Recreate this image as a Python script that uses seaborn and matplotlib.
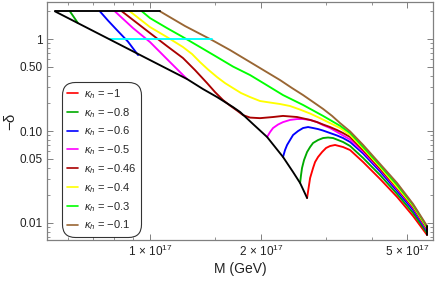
import numpy as np
import pandas as pd
import matplotlib
matplotlib.use('Agg')
import matplotlib.pyplot as plt
import seaborn as sns
from matplotlib.lines import Line2D
from matplotlib.ticker import FixedLocator, FixedFormatter, NullFormatter

# DATA (M in units of 1e17 GeV, values of -delta)
kappa_labels = ['-1', '-0.8', '-0.6', '-0.5', '-0.46', '-0.4', '-0.3', '-0.1']
kappa_colors = ['#FF0000', '#00AA00', '#0000FF', '#FF00FF', '#AA0000', '#FFFF00', '#00FF00', '#996633']

# upper branches (start on the -delta = 2 line, end on the black boundary)
up_M_m08 = [0.606, 0.637]
up_d_m08 = [2.0, 1.492]
up_M_m06 = [0.731, 0.769, 0.813, 0.871, 0.928]
up_d_m06 = [2.0, 1.589, 1.253, 0.939, 0.670]
up_M_m05 = [0.803, 0.899, 1.0, 1.133, 1.260]
up_d_m05 = [2.0, 1.317, 0.928, 0.562, 0.368]

# lower branches (start on the black boundary)
lo_M_m1 = [2.671, 2.722, 2.773, 2.808, 2.861, 2.934, 3.008, 3.084, 3.182, 3.345, 3.496,
           3.793, 4.217, 4.690, 5.184, 5.658]
lo_d_m1 = [0.0187, 0.0308, 0.0396, 0.0460, 0.0522, 0.0591, 0.0654, 0.0687, 0.0705, 0.067, 0.0621,
           0.0460, 0.0301, 0.0192, 0.0119, 0.00741]
lo_M_m08 = [2.557, 2.572, 2.588, 2.621, 2.671, 2.722, 2.773, 2.861, 2.952, 3.046, 3.143, 3.345,
            3.496, 3.793, 4.217, 4.690, 5.184, 5.658]
lo_d_m08 = [0.0272, 0.0332, 0.0396, 0.0484, 0.0591, 0.067, 0.0741, 0.0798, 0.0839, 0.0850, 0.0839, 0.0760,
            0.0687, 0.0509, 0.0332, 0.0207, 0.01284, 0.00778]
lo_M_m06 = [2.298, 2.327, 2.357, 2.401, 2.447, 2.525, 2.605, 2.688, 2.773, 2.861, 2.952, 3.084,
            3.222, 3.345, 3.496, 3.793, 4.217, 4.690, 5.184, 5.658]
lo_d_m06 = [0.0522, 0.0621, 0.0705, 0.0798, 0.0905, 0.100, 0.1078, 0.1105, 0.1078, 0.105, 0.1012, 0.0951,
            0.0894, 0.0839, 0.0760, 0.0569, 0.0363, 0.0223, 0.01384, 0.00819]
lo_M_m05 = [2.080, 2.119, 2.159, 2.228, 2.298, 2.401, 2.509, 2.605, 2.722, 2.843, 2.952, 3.084,
            3.222, 3.345, 3.496, 3.793, 4.217, 4.690, 5.184, 5.658]
lo_d_m05 = [0.0861, 0.0975, 0.1078, 0.1177, 0.125, 0.132, 0.135, 0.135, 0.132, 0.125, 0.116, 0.1078,
            0.0975, 0.0894, 0.0808, 0.0598, 0.0382, 0.0234, 0.0146, 0.0084]

# full curves (from the -delta = 2 line to the end point)
M_m046 = [0.839, 1.0, 1.112, 1.229, 1.325, 1.429, 1.502, 1.579, 1.650, 1.723, 1.789, 1.870, 1.990,
          2.159, 2.298, 2.509, 2.722, 2.843, 2.952, 3.084, 3.222, 3.345, 3.496, 3.793, 4.217,
          4.690, 5.184, 5.658]
d_m046 = [2.0, 1.162, 0.839, 0.622, 0.460, 0.332, 0.265, 0.217, 0.189, 0.167, 0.149, 0.140, 0.138,
          0.142, 0.146, 0.142, 0.132, 0.125, 0.1177, 0.1105, 0.1025, 0.0951, 0.0861, 0.0621, 0.0391,
          0.0240, 0.0149, 0.00861]
M_m04 = [0.882, 1.0, 1.112, 1.229, 1.301, 1.367, 1.438, 1.521, 1.599, 1.681, 1.767, 1.870, 1.990,
         2.119, 2.256, 2.401, 2.557, 2.722, 2.897, 3.084, 3.283, 3.496, 3.793, 4.217, 4.690,
         5.184, 5.658]
d_m04 = [2.0, 1.350, 1.051, 0.819, 0.687, 0.562, 0.466, 0.386, 0.332, 0.293, 0.259, 0.234, 0.212,
         0.204, 0.1966, 0.187, 0.171, 0.155, 0.138, 0.122, 0.1078, 0.0905, 0.0645, 0.0406, 0.0246,
         0.0153, 0.00883]
M_m03 = [0.951, 1.0, 1.112, 1.229, 1.367, 1.521, 1.681, 1.870, 2.053, 2.298, 2.605, 2.952, 3.283,
         3.496, 3.793, 4.217, 4.690, 5.184, 5.658]
d_m03 = [2.0, 1.691, 1.317, 1.051, 0.819, 0.637, 0.502, 0.406, 0.324, 0.246, 0.192, 0.146, 0.114,
         0.0951, 0.067, 0.0422, 0.0259, 0.0157, 0.00905]
M_m01 = [1.065, 1.245, 1.474, 1.650, 1.870, 2.053, 2.256, 2.432, 2.605, 2.773, 2.952, 3.123, 3.283,
         3.496, 3.793, 4.217, 4.690, 5.184, 5.658]
d_m01 = [2.0, 1.385, 0.975, 0.759, 0.562, 0.449, 0.358, 0.293, 0.246, 0.207, 0.174, 0.146, 0.122,
         0.099, 0.0705, 0.0438, 0.0272, 0.0161, 0.00927]

# black boundary, top line, end tick and cyan line
bound_M = [0.552, 1.0, 1.260, 1.393, 1.521, 1.681, 1.757, 1.905, 2.080, 2.298, 2.447, 2.557, 2.671]
bound_d = [2.0, 0.591, 0.368, 0.286, 0.234, 0.182, 0.161, 0.119, 0.0861, 0.0522, 0.0358, 0.0272, 0.0187]
top_M = [0.552, 1.065]
top_d = [2.0, 2.0]
end_M = [5.658, 5.658]
end_d = [0.0074, 0.0093]
cyan_M = [0.779, 1.474]
cyan_d = [1.0, 1.0]

segments = [
    (lo_M_m1, lo_d_m1, kappa_colors[0]),
    (up_M_m08, up_d_m08, kappa_colors[1]),
    (lo_M_m08, lo_d_m08, kappa_colors[1]),
    (up_M_m06, up_d_m06, kappa_colors[2]),
    (lo_M_m06, lo_d_m06, kappa_colors[2]),
    (up_M_m05, up_d_m05, kappa_colors[3]),
    (lo_M_m05, lo_d_m05, kappa_colors[3]),
    (M_m046, d_m046, kappa_colors[4]),
    (M_m04, d_m04, kappa_colors[5]),
    (M_m03, d_m03, kappa_colors[6]),
    (M_m01, d_m01, kappa_colors[7]),
    (cyan_M, cyan_d, '#00FFFF'),
    (bound_M, bound_d, 'black'),
    (top_M, top_d, 'black'),
    (end_M, end_d, 'black'),
]

# STYLE
sns.set_style('ticks')
plt.rcParams['font.family'] = ['Liberation Sans', 'DejaVu Sans']
plt.rcParams['mathtext.fontset'] = 'custom'
plt.rcParams['mathtext.rm'] = 'Liberation Sans'
plt.rcParams['mathtext.it'] = 'Liberation Sans:italic'

frame_col = '#808080'

fig = plt.figure(figsize=(4.36, 2.81), dpi=100)
ax = fig.add_axes([0.1078, 0.1459, 0.8852, 0.847])
ax.set_xscale('log')
ax.set_yscale('log')

for seg_M, seg_d, col in segments:
    df = pd.DataFrame({'M': np.array(seg_M) * 1e17, 'delta': seg_d})
    sns.lineplot(data=df, x='M', y='delta', sort=False, estimator=None,
                 color=col, lw=1.35, ax=ax, legend=False)

ax.set_xlim(0.525e17, 5.87e17)
ax.set_ylim(0.00653, 2.53)

# TICKS
ax.xaxis.set_major_locator(FixedLocator([1e17, 2e17, 5e17]))
ax.xaxis.set_major_formatter(FixedFormatter([r'$1\,\times\,10^{17}$', r'$2\,\times\,10^{17}$',
                                             r'$5\,\times\,10^{17}$']))
ax.xaxis.set_minor_locator(FixedLocator([v * 1e17 for v in [0.6, 0.7, 0.8, 0.9, 1.5, 3, 4]]))
ax.xaxis.set_minor_formatter(NullFormatter())

y_major = [0.01, 0.05, 0.1, 0.5, 1]
ax.yaxis.set_major_locator(FixedLocator(y_major))
ax.yaxis.set_major_formatter(FixedFormatter(['0.01', '0.05', '0.10', '0.50', '1']))
y_minor = [m * 10.0 ** e for e in [-3, -2, -1, 0] for m in range(2, 10)]
y_minor = [v for v in y_minor if v not in y_major]
ax.yaxis.set_minor_locator(FixedLocator(y_minor))
ax.yaxis.set_minor_formatter(NullFormatter())

ax.tick_params(which='both', direction='in', top=True, right=True,
               color=frame_col, labelsize=8.5, labelcolor='#222222', pad=3)
ax.tick_params(which='major', length=4.5, width=0.7)
ax.tick_params(which='minor', length=2.5, width=0.6)
for sp in ax.spines.values():
    sp.set_color(frame_col)
    sp.set_linewidth(0.9)

ax.set_xlabel('M (GeV)', fontsize=10, labelpad=2, color='#222222')
ax.set_ylabel('−δ', fontsize=11, labelpad=2, color='#222222')

# LEGEND
handles = [Line2D([0], [0], color=c, lw=1.2) for c in kappa_colors]
labels = [r'$\kappa_h$ = ' + k.replace('-', '−') for k in kappa_labels]
leg = ax.legend(handles, labels, loc='upper left', bbox_to_anchor=(0.039, 0.664),
                borderaxespad=0, fontsize=8, handlelength=1.0, handletextpad=0.5,
                labelspacing=0.45, borderpad=0.45, frameon=True, fancybox=True)
frame = leg.get_frame()
frame.set_edgecolor('black')
frame.set_linewidth(0.8)
frame.set_boxstyle('round,pad=0,rounding_size=1.2')

fig.savefig('out.png', dpi=100)
